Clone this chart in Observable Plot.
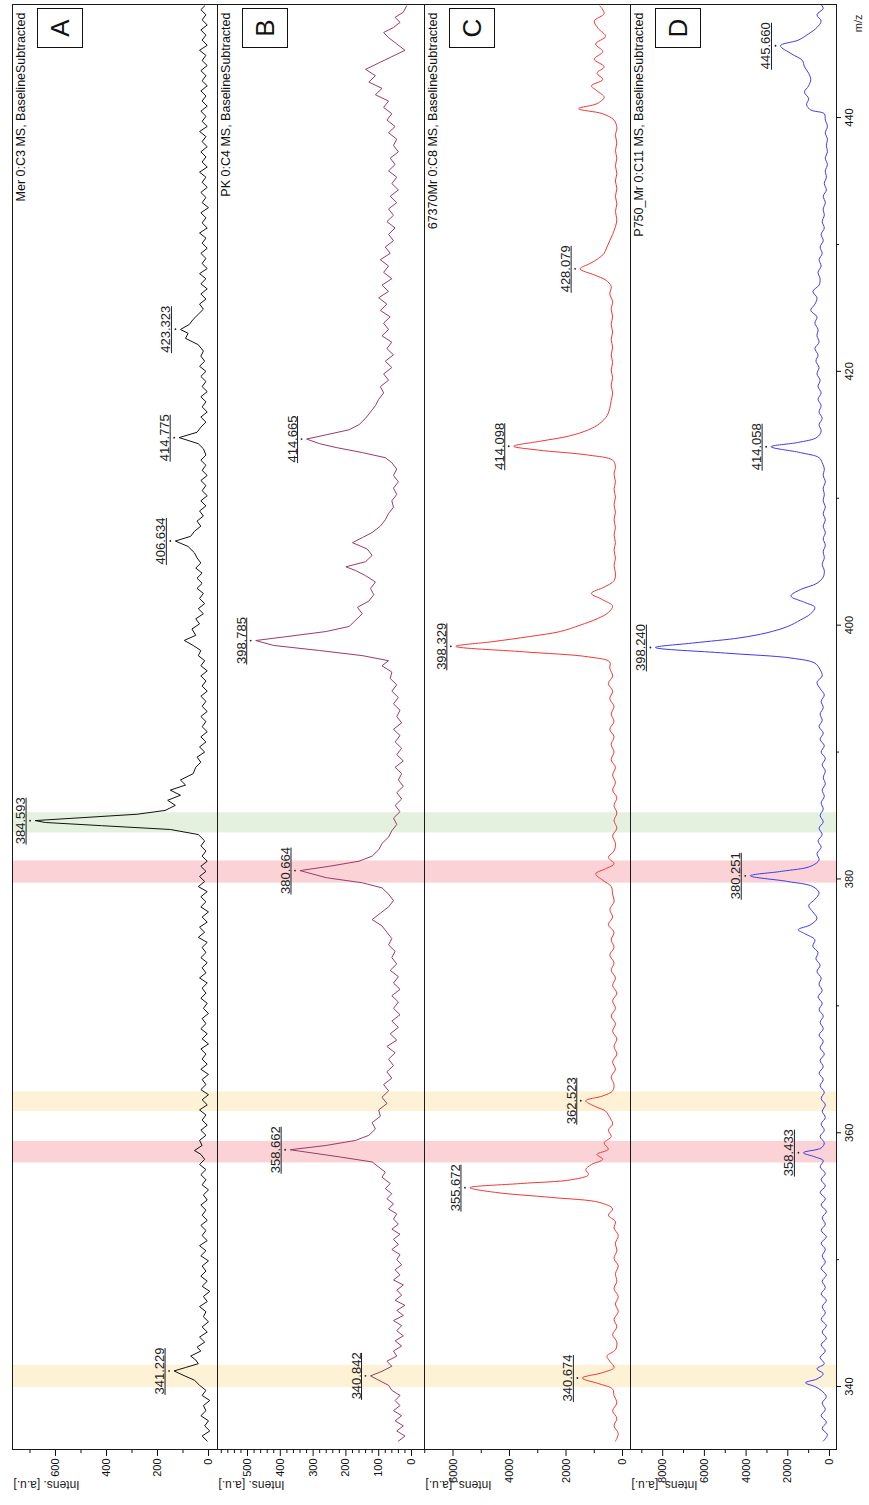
<!DOCTYPE html>
<html><head><meta charset="utf-8">
<script src="https://cdn.jsdelivr.net/npm/d3@7"></script>
<script src="https://cdn.jsdelivr.net/npm/@observablehq/plot@0.6"></script>
<style>
html,body{margin:0;padding:0;overflow:hidden;background:#fff;width:869px;height:1505px}
#stage{position:absolute;left:0;top:0;width:1505px;height:869px;transform-origin:0 0;transform:translate(0px,1505px) rotate(-90deg);font-family:Arial,"Liberation Sans",sans-serif}
.panel{position:absolute;left:0}
.box{position:absolute;border:1.4px solid #111;box-sizing:border-box;display:flex;align-items:center;justify-content:center;font-size:26px;color:#111;background:#fff}
</style></head><body><div id="stage"></div><script>
// ---------- data ----------
const panelKeys = ["A", "B", "C", "D"];
const panelTitles = ["Mer 0:C3 MS, BaselineSubtracted", "PK 0:C4 MS, BaselineSubtracted", "67370Mr 0:C8 MS, BaselineSubtracted", "P750_Mr 0:C11 MS, BaselineSubtracted"];
const panelColors = ["#111111", "#9b3a6c", "#f23636", "#3a3af2"];
const panelCurves = ["linear", "linear", "catmull-rom", "catmull-rom"];
const yMajorTicks = [[0,200,400,600],[0,100,200,300,400,500],[0,2000,4000,6000],[0,2000,4000,6000,8000]];
const yMinorTicks = [[100,300,500,700],
  [20,40,60,80,120,140,160,180,220,240,260,280,320,340,360,380,420,440,460,480,520,540,560,580],
  [1000,3000,5000,7000],[1000,3000,5000,7000,9000]];
const mzMajorTicks = [340,360,380,400,420,440];
const mzMinorTicks = [350,370,390,410,430];
const yellowBands = [[340.0,341.75],[361.75,363.3]];
const pinkBands = [[357.7,359.4],[379.75,381.5]];
const greenBands = [[383.7,385.3]];

const spectrumA = [335.7,5, 336.1,25, 336.5,-5, 336.9,15, 337.3,0, 337.7,30, 338.1,10, 338.5,20, 338.9,-5, 339.3,25, 339.7,10, 340.1,35, 340.5,55, 340.9,100, 341.23,135, 341.5,90, 341.8,40, 342.1,50, 342.4,70, 342.8,30, 343.1,45, 343.5,15, 343.9,35, 344.3,5, 344.7,25, 345.1,0, 345.5,20, 345.9,10, 346.3,35, 346.7,5, 347.1,20, 347.5,-5, 347.9,25, 348.3,5, 348.7,30, 349.1,10, 349.5,25, 349.9,0, 350.3,30, 350.7,10, 351.1,35, 351.5,5, 351.9,25, 352.3,10, 352.7,30, 353.1,5, 353.5,25, 353.9,10, 354.3,30, 354.7,5, 355.1,20, 355.5,0, 355.9,25, 356.3,10, 356.7,30, 357.1,10, 357.5,35, 357.9,15, 358.3,30, 358.6,55, 359.0,25, 359.4,35, 359.8,10, 360.2,30, 360.6,5, 361.0,25, 361.4,10, 361.8,35, 362.2,5, 362.6,25, 363.0,0, 363.4,30, 363.8,10, 364.2,25, 364.6,0, 365.0,30, 365.4,5, 365.8,25, 366.2,10, 366.6,30, 367.0,0, 367.4,25, 367.8,5, 368.2,30, 368.6,10, 369.0,25, 369.4,0, 369.8,20, 370.2,5, 370.6,30, 371.0,10, 371.4,25, 371.8,5, 372.2,35, 372.6,10, 373.0,25, 373.4,5, 373.8,30, 374.2,10, 374.6,25, 375.0,5, 375.4,40, 375.8,15, 376.2,35, 376.6,5, 377.0,25, 377.4,0, 377.8,30, 378.2,10, 378.6,30, 379.0,5, 379.4,40, 379.8,15, 380.2,35, 380.6,10, 381.0,30, 381.4,5, 381.8,25, 382.2,10, 382.6,30, 383.0,15, 383.5,40, 383.9,150, 384.2,420, 384.45,640, 384.6,680, 384.8,520, 385.1,280, 385.4,170, 385.8,130, 386.2,160, 386.6,110, 387.0,150, 387.4,90, 387.8,110, 388.3,60, 388.8,50, 389.2,30, 389.6,45, 390.0,15, 390.4,35, 390.8,10, 391.2,30, 391.6,5, 392.0,25, 392.4,10, 392.8,30, 393.2,5, 393.6,25, 394.0,10, 394.4,30, 394.8,5, 395.2,25, 395.6,10, 396.0,30, 396.4,5, 396.8,30, 397.2,15, 397.6,40, 398.0,30, 398.4,60, 398.8,95, 399.2,50, 399.7,65, 400.1,35, 400.5,50, 400.9,20, 401.3,40, 401.7,15, 402.1,35, 402.5,20, 402.9,45, 403.3,25, 403.7,45, 404.1,25, 404.5,50, 404.9,30, 405.3,45, 405.7,55, 406.2,80, 406.63,130, 407.0,70, 407.4,55, 407.8,30, 408.2,45, 408.6,20, 409.0,35, 409.4,10, 409.8,30, 410.2,5, 410.6,25, 411.0,10, 411.4,30, 411.8,5, 412.2,25, 412.6,10, 413.0,30, 413.4,10, 413.9,20, 414.3,40, 414.78,115, 415.2,45, 415.6,30, 416.0,10, 416.4,30, 416.8,5, 417.2,25, 417.6,10, 418.0,30, 418.4,5, 418.8,25, 419.2,10, 419.6,30, 420.0,10, 420.4,35, 420.8,15, 421.2,30, 421.6,20, 422.1,40, 422.6,90, 423.0,80, 423.3,110, 423.7,75, 424.1,60, 424.5,40, 424.9,20, 425.3,35, 425.7,10, 426.1,30, 426.5,5, 426.9,30, 427.3,10, 427.7,35, 428.1,5, 428.5,25, 428.9,10, 429.3,30, 429.7,5, 430.1,25, 430.5,10, 430.9,35, 431.3,5, 431.7,25, 432.1,10, 432.5,30, 432.9,0, 433.3,25, 433.7,10, 434.1,30, 434.5,5, 434.9,25, 435.3,10, 435.7,35, 436.1,5, 436.5,25, 436.9,10, 437.3,30, 437.7,5, 438.1,25, 438.5,10, 438.9,35, 439.3,5, 439.7,25, 440.1,10, 440.5,30, 440.9,5, 441.3,25, 441.7,10, 442.1,30, 442.5,5, 442.9,25, 443.3,10, 443.7,30, 444.1,5, 444.5,25, 444.9,10, 445.3,35, 445.7,5, 446.1,25, 446.5,10, 446.9,30, 447.3,5, 447.7,25, 448.1,10, 448.5,30, 448.8,15];

const spectrumB = [335.7,40, 336.1,20, 336.5,45, 336.9,25, 337.3,50, 337.7,30, 338.1,55, 338.5,35, 338.9,50, 339.3,35, 339.7,60, 340.1,70, 340.5,100, 340.84,125, 341.2,90, 341.6,60, 342.0,75, 342.4,45, 342.8,55, 343.2,30, 343.6,50, 344.0,25, 344.4,45, 344.8,30, 345.2,55, 345.6,25, 346.0,45, 346.4,20, 346.8,50, 347.2,30, 347.6,45, 348.0,25, 348.4,55, 348.8,35, 349.2,50, 349.6,30, 350.0,45, 350.4,35, 350.8,60, 351.2,40, 351.6,55, 352.0,35, 352.4,60, 352.8,40, 353.2,55, 353.6,45, 354.0,70, 354.4,55, 354.8,75, 355.2,60, 355.6,80, 356.0,65, 356.5,90, 356.9,80, 357.3,100, 357.7,120, 358.1,220, 358.66,370, 359.0,260, 359.4,170, 359.8,130, 360.3,110, 360.8,120, 361.3,95, 361.8,100, 362.3,75, 362.8,90, 363.3,70, 363.8,85, 364.3,60, 364.8,75, 365.3,55, 365.8,70, 366.3,50, 366.8,75, 367.3,45, 367.8,65, 368.3,40, 368.8,60, 369.3,35, 369.8,55, 370.3,40, 370.8,60, 371.3,35, 371.8,55, 372.3,40, 372.8,65, 373.3,45, 373.8,60, 374.3,50, 374.8,70, 375.3,60, 375.8,75, 376.3,90, 376.8,120, 377.3,95, 377.8,70, 378.3,55, 378.8,70, 379.3,90, 379.7,150, 380.1,260, 380.66,340, 381.0,250, 381.4,160, 381.8,120, 382.3,100, 382.8,90, 383.3,70, 383.8,60, 384.3,45, 384.8,55, 385.3,35, 385.8,50, 386.3,30, 386.8,45, 387.3,25, 387.8,40, 388.3,30, 388.8,50, 389.3,25, 389.8,45, 390.3,30, 390.8,50, 391.3,35, 391.8,55, 392.3,30, 392.8,45, 393.3,35, 393.8,55, 394.3,40, 394.8,60, 395.3,45, 395.8,65, 396.3,60, 396.8,90, 397.2,70, 397.6,150, 398.0,280, 398.4,420, 398.79,475, 399.1,380, 399.5,260, 399.9,190, 400.4,170, 400.9,150, 401.4,165, 401.9,130, 402.4,115, 402.9,125, 403.4,110, 403.9,140, 404.3,170, 404.6,200, 405.0,140, 405.5,120, 406.0,135, 406.5,180, 406.9,150, 407.3,120, 407.8,95, 408.3,80, 408.8,70, 409.3,55, 409.8,60, 410.3,45, 410.8,55, 411.3,40, 411.8,55, 412.3,45, 412.8,60, 413.2,80, 413.6,150, 414.0,230, 414.3,280, 414.67,320, 415.0,260, 415.4,190, 415.8,160, 416.3,140, 416.8,125, 417.3,110, 417.8,100, 418.3,85, 418.8,95, 419.3,70, 419.8,85, 420.3,60, 420.8,80, 421.3,55, 421.8,75, 422.3,60, 422.8,90, 423.3,70, 423.8,85, 424.3,65, 424.8,95, 425.3,75, 425.8,100, 426.3,70, 426.8,90, 427.3,60, 427.8,85, 428.3,70, 428.8,95, 429.3,65, 429.8,80, 430.3,55, 430.8,70, 431.3,50, 431.8,75, 432.3,55, 432.8,70, 433.3,45, 433.8,65, 434.3,40, 434.8,60, 435.3,45, 435.8,70, 436.3,50, 436.8,65, 437.3,40, 437.8,55, 438.3,45, 438.8,70, 439.3,50, 439.8,75, 440.3,60, 440.8,85, 441.3,70, 441.8,110, 442.3,90, 442.8,130, 443.3,110, 443.8,140, 444.3,100, 444.8,60, 445.3,20, 445.8,45, 446.3,70, 446.7,85, 447.1,55, 447.5,35, 447.9,50, 448.3,25, 448.8,15];

const spectrumC = [335.7,250, 336.3,150, 336.9,300, 337.5,200, 338.1,350, 338.7,200, 339.3,300, 339.8,350, 340.2,800, 340.67,1420, 341.1,700, 341.5,300, 342.0,450, 342.4,550, 342.9,250, 343.5,200, 344.1,350, 344.7,200, 345.3,300, 345.9,150, 346.5,250, 347.1,150, 347.7,300, 348.3,200, 348.9,250, 349.5,150, 350.1,300, 350.7,200, 351.3,250, 351.9,150, 352.5,300, 353.0,250, 353.5,500, 354.0,350, 354.5,800, 354.9,2500, 355.3,4500, 355.67,5400, 356.0,3600, 356.3,1800, 356.7,1200, 357.1,1300, 357.5,1100, 357.9,700, 358.3,900, 358.7,500, 359.2,650, 359.7,400, 360.2,500, 360.7,350, 361.2,450, 361.7,600, 362.1,1000, 362.52,1300, 362.9,700, 363.3,350, 363.8,300, 364.4,400, 365.0,250, 365.6,350, 366.2,200, 366.8,300, 367.4,200, 368.0,350, 368.6,250, 369.2,400, 369.8,250, 370.4,350, 371.0,200, 371.6,350, 372.2,250, 372.8,400, 373.4,300, 374.0,450, 374.6,300, 375.2,400, 375.8,300, 376.4,500, 377.0,350, 377.6,450, 378.2,300, 378.8,350, 379.4,400, 379.9,700, 380.4,950, 380.8,600, 381.2,300, 381.7,500, 382.2,300, 382.8,250, 383.4,350, 384.0,200, 384.6,300, 385.2,200, 385.8,300, 386.4,200, 387.0,350, 387.6,250, 388.2,350, 388.8,250, 389.4,400, 390.0,300, 390.6,400, 391.2,300, 391.8,450, 392.4,300, 393.0,400, 393.6,300, 394.2,450, 394.8,350, 395.4,500, 396.0,350, 396.6,450, 397.1,450, 397.5,1200, 397.9,3500, 398.33,5900, 398.7,4600, 399.1,3300, 399.5,2200, 400.0,1500, 400.5,900, 401.0,500, 401.5,350, 402.0,700, 402.5,1100, 403.0,650, 403.5,300, 404.1,250, 404.7,300, 405.3,250, 405.9,300, 406.5,250, 407.1,300, 407.7,250, 408.3,300, 408.9,250, 409.5,300, 410.1,250, 410.7,300, 411.3,250, 411.9,300, 412.5,250, 413.0,350, 413.4,1200, 413.8,3000, 414.1,3850, 414.5,2900, 414.9,1900, 415.4,1200, 415.9,800, 416.5,550, 417.1,450, 417.7,400, 418.3,350, 418.9,400, 419.5,350, 420.1,400, 420.7,350, 421.3,400, 421.9,350, 422.5,400, 423.1,350, 423.7,400, 424.3,350, 424.9,400, 425.5,350, 426.1,450, 426.7,400, 427.2,600, 427.6,1000, 428.08,1500, 428.5,1150, 428.9,850, 429.3,650, 429.8,550, 430.3,450, 430.8,350, 431.4,250, 432.0,200, 432.6,250, 433.2,200, 433.8,250, 434.4,200, 435.0,250, 435.6,200, 436.2,250, 436.8,200, 437.4,250, 438.0,200, 438.6,250, 439.2,200, 439.8,300, 440.3,700, 440.7,1550, 441.1,900, 441.6,650, 442.1,900, 442.5,1100, 443.0,700, 443.5,900, 444.0,650, 444.6,1000, 445.2,700, 445.8,950, 446.4,600, 447.0,850, 447.6,1000, 448.2,650, 448.8,800];

const spectrumD = [335.7,300, 336.2,100, 336.7,350, 337.2,150, 337.7,400, 338.2,200, 338.7,350, 339.2,150, 339.7,400, 340.0,700, 340.3,1150, 340.6,600, 341.0,300, 341.4,600, 341.8,250, 342.3,450, 342.8,200, 343.3,400, 343.8,150, 344.3,350, 344.8,150, 345.3,400, 345.8,200, 346.3,350, 346.8,150, 347.3,400, 347.8,200, 348.3,350, 348.8,150, 349.3,400, 349.8,200, 350.3,350, 350.8,200, 351.3,400, 351.8,150, 352.3,400, 352.8,200, 353.3,350, 353.8,150, 354.3,400, 354.8,200, 355.3,450, 355.8,200, 356.3,400, 356.8,200, 357.3,450, 357.8,300, 358.1,700, 358.43,1250, 358.8,400, 359.2,250, 359.7,450, 360.2,250, 360.7,400, 361.2,200, 361.7,350, 362.2,200, 362.7,400, 363.2,250, 363.7,450, 364.2,300, 364.7,500, 365.2,300, 365.7,450, 366.2,250, 366.7,450, 367.2,300, 367.7,500, 368.2,300, 368.7,450, 369.2,300, 369.7,500, 370.2,350, 370.7,550, 371.2,350, 371.7,500, 372.2,400, 372.7,600, 373.2,450, 373.7,650, 374.2,550, 374.7,800, 375.2,700, 375.7,1200, 376.0,1500, 376.4,900, 376.9,600, 377.4,800, 377.9,1000, 378.4,700, 378.9,500, 379.4,800, 379.8,2000, 380.25,3800, 380.6,2300, 381.0,900, 381.5,500, 382.0,600, 382.5,400, 383.0,550, 383.5,350, 384.0,500, 384.5,300, 385.0,450, 385.5,300, 386.0,400, 386.5,250, 387.0,350, 387.5,200, 388.0,300, 388.5,200, 389.0,350, 389.5,200, 390.0,400, 390.5,250, 391.0,450, 391.5,300, 392.0,500, 392.5,350, 393.0,450, 393.5,300, 394.0,400, 394.5,250, 395.0,450, 395.5,600, 396.0,350, 396.5,450, 397.0,700, 397.4,1800, 397.8,5000, 398.24,8350, 398.6,6500, 399.0,4300, 399.4,3000, 399.9,2000, 400.4,1400, 400.9,900, 401.4,700, 401.8,1200, 402.3,1850, 402.8,1400, 403.3,600, 403.8,300, 404.3,250, 404.8,350, 405.3,250, 405.8,300, 406.3,200, 406.8,300, 407.3,200, 407.8,300, 408.3,200, 408.8,300, 409.3,200, 409.8,300, 410.3,250, 410.8,300, 411.3,200, 411.8,300, 412.3,250, 412.8,350, 413.2,500, 413.6,1400, 414.06,2800, 414.4,1500, 414.8,600, 415.3,400, 415.8,500, 416.3,350, 416.8,500, 417.3,400, 417.8,550, 418.3,400, 418.8,550, 419.3,450, 419.8,600, 420.3,500, 420.8,650, 421.3,550, 421.8,700, 422.3,500, 422.8,600, 423.3,550, 423.8,700, 424.3,600, 424.8,900, 425.3,700, 425.8,600, 426.3,800, 426.8,500, 427.3,450, 427.8,550, 428.3,400, 428.8,500, 429.3,350, 429.8,450, 430.3,300, 430.8,400, 431.3,250, 431.8,350, 432.3,250, 432.8,300, 433.3,200, 433.8,300, 434.3,150, 434.8,250, 435.3,150, 435.8,200, 436.3,100, 436.8,200, 437.3,100, 437.8,150, 438.3,100, 438.8,200, 439.3,100, 439.8,200, 440.3,250, 440.6,900, 441.0,1100, 441.5,1000, 442.0,1200, 442.5,1000, 443.0,900, 443.5,1000, 444.0,1200, 444.5,1300, 445.0,1800, 445.66,2350, 446.1,1500, 446.6,1000, 447.1,600, 447.6,400, 448.1,600, 448.6,300, 448.9,400];

// peak labels: [m/z, apex intensity]
const peaksA = [[341.229,135],[384.593,680],[406.634,130],[414.775,115],[423.323,110]];
const peaksB = [[340.842,125],[358.662,370],[380.664,340],[398.785,475],[414.665,320]];
const peaksC = [[340.674,1420],[355.672,5400],[362.523,1300],[398.329,5900],[414.098,3850],[428.079,1500]];
const peaksD = [[358.433,1250],[380.251,3800],[398.240,8350],[414.058,2800],[445.660,2350]];

// ---------- layout ----------
const W = 1505, ML = 55, MR = 5;
const mzDomain = [335.04, 448.91];
const panelTop = [12, 217, 424, 630];
const panelH = [205, 207, 206, 206];
const yDomains = [[-35.3, 768.6], [-39.6, 591.5], [-283, 7009], [-336, 9544]];
const spectra = [spectrumA, spectrumB, spectrumC, spectrumD];
const peaks = [peaksA, peaksB, peaksC, peaksD];
const labelHalfWidth = 1.85; // half the width of a "ddd.ddd" label, in m/z units
const FONT = 'Arial, "Liberation Sans", sans-serif';

function pairs(flat) {
  const out = [];
  for (let i = 0; i < flat.length; i += 2) out.push({mz: flat[i], v: flat[i + 1]});
  return out;
}

const stage = document.getElementById("stage");
panelKeys.forEach((key, i) => {
  const last = i === 3;
  const yd = yDomains[i];
  const band = (arr, fill) => Plot.rect(arr, {x1: d => d[0], x2: d => d[1], y1: yd[0], y2: yd[1], fill, clip: true});
  const pk = peaks[i].map(([mz, v]) => ({mz, v, label: mz.toFixed(3)}));
  const marks = [
    band(yellowBands, "#fdf2d5"),
    band(pinkBands, "#fbd3d7"),
    band(greenBands, "#e5f1df"),
    Plot.line(pairs(spectra[i]), {x: "mz", y: "v", stroke: panelColors[i], strokeWidth: 1, curve: panelCurves[i], clip: true}),
    Plot.frame({stroke: "#1a1a1a"}),
    Plot.axisY({ticks: yMajorTicks[i], tickSize: 6, tickPadding: 3, fontSize: 11, label: null, tickFormat: d => String(d)}),
    Plot.axisY({ticks: yMinorTicks[i], tickSize: 3, tickFormat: () => "", label: null}),
    Plot.text(["Intens. [a.u.]"], {frameAnchor: "top-left", rotate: -90, textAnchor: "end", dx: -40, dy: 1, fontSize: 12, fill: "#222"}),
    Plot.text([panelTitles[i]], {frameAnchor: "top-right", textAnchor: "end", lineAnchor: "top", dx: -8, dy: 4, fontSize: 12.5, fill: "#111"}),
    Plot.dot(pk, {x: "mz", y: "v", r: 0.9, fill: "#222", stroke: null, dy: -5}),
    Plot.ruleY(pk, {x1: d => d.mz - labelHalfWidth, x2: d => d.mz + labelHalfWidth, y: "v", dy: -9, stroke: "#222", strokeWidth: 1}),
    Plot.text(pk, {x: "mz", y: "v", text: "label", lineAnchor: "bottom", dy: -10, fontSize: 13, fill: "#222"})
  ];
  if (last) {
    marks.push(
      Plot.axisX({ticks: mzMajorTicks, tickSize: 5, tickPadding: 4, fontSize: 11, label: null, tickFormat: d => String(d)}),
      Plot.axisX({ticks: mzMinorTicks, tickSize: 3, tickFormat: () => "", label: null}),
      Plot.text(["m/z"], {frameAnchor: "bottom-right", textAnchor: "end", dx: -10, dy: 25, fontSize: 11, fill: "#222"})
    );
  }
  const svg = Plot.plot({
    width: W, height: panelH[i] + (last ? 33 : 0),
    marginLeft: ML, marginRight: MR, marginTop: 0, marginBottom: last ? 33 : 0,
    x: {domain: mzDomain, ...(last ? {} : {axis: null})},
    y: {domain: yd},
    style: {fontFamily: FONT, fontSize: "11px", color: "#111", background: "transparent", overflow: "visible"},
    marks
  });
  svg.classList.add("panel");
  svg.style.top = panelTop[i] + "px";
  stage.appendChild(svg);
  const box = document.createElement("div");
  box.className = "box";
  box.textContent = key;
  box.style.left = "1457px"; box.style.width = "40px";
  box.style.top = (panelTop[i] + 25) + "px"; box.style.height = "46px";
  stage.appendChild(box);
});
</script></body></html>
